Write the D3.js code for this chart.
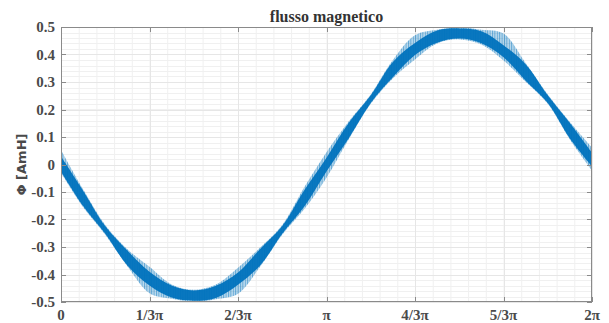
<!DOCTYPE html>
<html><head><meta charset="utf-8">
<script src="https://cdn.jsdelivr.net/npm/d3@7"></script>
<style>body{margin:0;background:#fff}svg{display:block}</style>
</head><body>
<svg id="c" width="609" height="323"></svg>
<script>
// phase in degrees (0..360 = 0..2π)
const phaseDeg = [0,15,30,45,60,75,90,105,120,135,150,165,180,195,210,225,240,255,270,285,300,315,330,345,360];
// dense core of the rippled flux band (upper / lower edge)
const coreHi  = [0.030,-0.095,-0.224,-0.313,-0.390,-0.440,-0.458,-0.441,-0.393,-0.307,-0.224,-0.093,0.025,0.151,0.252,0.373,0.442,0.487,0.495,0.485,0.434,0.365,0.252,0.151,0.043];
const coreLo  = [-0.025,-0.151,-0.252,-0.367,-0.440,-0.484,-0.495,-0.485,-0.437,-0.367,-0.252,-0.153,-0.025,0.095,0.224,0.317,0.398,0.443,0.458,0.441,0.390,0.305,0.224,0.095,-0.007];
// outer (faint, hatched) envelope of the ripple
const outerHi = [0.053,-0.090,-0.220,-0.308,-0.372,-0.436,-0.455,-0.436,-0.375,-0.302,-0.220,-0.082,0.045,0.156,0.255,0.380,0.470,0.490,0.499,0.490,0.476,0.369,0.255,0.155,0.062];
const outerLo = [-0.030,-0.155,-0.255,-0.370,-0.468,-0.488,-0.499,-0.490,-0.470,-0.372,-0.255,-0.162,-0.048,0.091,0.221,0.313,0.382,0.440,0.455,0.436,0.378,0.301,0.221,0.091,-0.022];
const xTickVals = [0,60,120,180,240,300,360];
const xTickLabels = ["0","1/3\u03C0","2/3\u03C0","\u03C0","4/3\u03C0","5/3\u03C0","2\u03C0"];
const yTickVals = [-0.5,-0.4,-0.3,-0.2,-0.1,0,0.1,0.2,0.3,0.4,0.5];
const yTickLabels = ["-0.5","-0.4","-0.3","-0.2","-0.1","0","0.1","0.2","0.3","0.4","0.5"];
const titleText = "flusso magnetico";
const yLabelText = "\u03A6 [AmH]";

const L=61,R=592,T=27,B=302;
const svg=d3.select("#c");
const x=d3.scaleLinear().domain([0,360]).range([L,R]);
const y=d3.scaleLinear().domain([-0.5,0.5]).range([B,T]);
const blue="#0072BD", axisCol="#8a8a8a", txtCol="#4a4a4a";
const serif="'Liberation Serif','Times New Roman',serif";

const defs=svg.append("defs");
defs.append("clipPath").attr("id","clip").append("rect").attr("x",L).attr("y",T).attr("width",R-L).attr("height",B-T);
const pat=defs.append("pattern").attr("id","hatch").attr("patternUnits","userSpaceOnUse").attr("width",2.4).attr("height",10);
pat.append("rect").attr("width",2.4).attr("height",10).attr("fill",blue).attr("fill-opacity",0.25);
pat.append("rect").attr("width",1).attr("height",10).attr("fill",blue).attr("fill-opacity",0.5);

// minor grid
const xMinor=d3.range(0,361,12), yMinor=d3.range(-0.5,0.5001,0.02);
const g=svg.append("g");
g.selectAll(".mx").data(xMinor).join("line").attr("x1",d=>x(d)+0.5).attr("x2",d=>x(d)+0.5).attr("y1",T).attr("y2",B).attr("stroke","#f0f0f0");
g.selectAll(".my").data(yMinor).join("line").attr("y1",d=>Math.round(y(d))+0.5).attr("y2",d=>Math.round(y(d))+0.5).attr("x1",L).attr("x2",R).attr("stroke","#f0f0f0");
g.selectAll(".gx").data(xTickVals).join("line").attr("x1",d=>Math.round(x(d))+0.5).attr("x2",d=>Math.round(x(d))+0.5).attr("y1",T).attr("y2",B).attr("stroke","#e6e6e6");
g.selectAll(".gy").data(yTickVals).join("line").attr("y1",d=>Math.round(y(d))+0.5).attr("y2",d=>Math.round(y(d))+0.5).attr("x1",L).attr("x2",R).attr("stroke","#e6e6e6");

// band
const idx=d3.range(phaseDeg.length);
const plot=svg.append("g").attr("clip-path","url(#clip)");
const area=(hi,lo)=>d3.area().x(i=>x(phaseDeg[i])).y0(i=>y(lo[i])).y1(i=>y(hi[i])).curve(d3.curveCatmullRom.alpha(0.5));
plot.append("path").datum(idx).attr("d",area(outerHi,outerLo)).attr("fill","url(#hatch)");
plot.append("path").datum(idx).attr("d",area(coreHi,coreLo)).attr("fill",blue).attr("fill-opacity",0.95);

// axes box
svg.append("rect").attr("x",L+0.5).attr("y",T+0.5).attr("width",R-L-1).attr("height",B-T-1).attr("fill","none").attr("stroke",axisCol);
const tk=5;
svg.selectAll(".tb").data(xTickVals).join("line").attr("x1",d=>Math.round(x(d))+0.5).attr("x2",d=>Math.round(x(d))+0.5).attr("y1",B).attr("y2",B-tk).attr("stroke",axisCol);
svg.selectAll(".tt").data(xTickVals).join("line").attr("x1",d=>Math.round(x(d))+0.5).attr("x2",d=>Math.round(x(d))+0.5).attr("y1",T).attr("y2",T+tk).attr("stroke",axisCol);
svg.selectAll(".tl").data(yTickVals).join("line").attr("y1",d=>Math.round(y(d))+0.5).attr("y2",d=>Math.round(y(d))+0.5).attr("x1",L).attr("x2",L+tk).attr("stroke",axisCol);
svg.selectAll(".tr").data(yTickVals).join("line").attr("y1",d=>Math.round(y(d))+0.5).attr("y2",d=>Math.round(y(d))+0.5).attr("x1",R).attr("x2",R-tk).attr("stroke",axisCol);

// tick labels
svg.selectAll(".xl").data(xTickVals).join("text").attr("x",d=>x(d)).attr("y",320).attr("text-anchor","middle")
  .attr("font-family",serif).attr("font-weight","bold").attr("font-size",15).attr("fill",txtCol).text((d,i)=>xTickLabels[i]);
svg.selectAll(".yl").data(yTickVals).join("text").attr("x",55).attr("y",d=>y(d)+5).attr("text-anchor","end")
  .attr("font-family",serif).attr("font-weight","bold").attr("font-size",15).attr("fill",txtCol).text((d,i)=>yTickLabels[i]);

// title & y label
svg.append("text").attr("x",(L+R)/2).attr("y",22).attr("text-anchor","middle").attr("font-family",serif).attr("font-weight","bold")
  .attr("font-size",16).attr("fill","#333").text(titleText);
svg.append("text").attr("transform",`translate(26,${(T+B)/2}) rotate(-90)`).attr("text-anchor","middle")
  .attr("font-family","'DejaVu Sans',sans-serif").attr("font-weight","bold").attr("font-size",13).attr("fill",txtCol).text(yLabelText);
</script>
</body></html>
